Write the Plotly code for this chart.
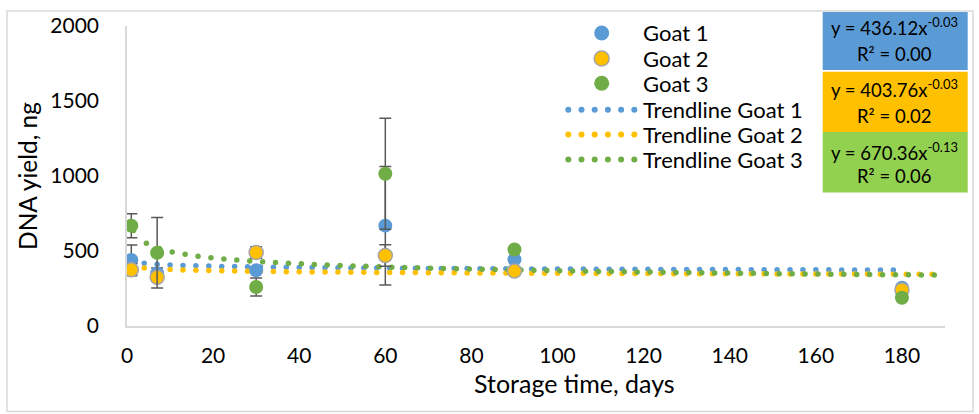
import numpy as np
import plotly.graph_objects as go

# ---------------- data ----------------
days = [1, 7, 30, 60, 90, 180]

goat1 = [440, 351, 371, 669, 444, 255]
goat2 = [375, 325, 490, 470, 366, 240]
goat3 = [668, 488, 260, 1015, 510, 188]

goat1_err = [100, 35, 20, 395, 0, 0]
goat2_err = [40, 20, 38, 72, 0, 0]
goat3_err = [80, 235, 60, 370, 0, 0]

series_names = ["Goat 1", "Goat 2", "Goat 3"]
trend_names = ["Trendline Goat 1", "Trendline Goat 2", "Trendline Goat 3"]

# power trendlines y = a * x^b as printed on the chart
trend_a = [436.12, 403.76, 670.36]
trend_b = [-0.03, -0.03, -0.13]
trend_r2 = [0.00, 0.02, 0.06]
trend_start = [1, 1, 1.5]
trend_end = [179, 188, 189]

x_ticks = [0, 20, 40, 60, 80, 100, 120, 140, 160, 180]
y_ticks = [0, 500, 1000, 1500, 2000]

x_title = "Storage time, days"
y_title = "DNA yield, ng"

# ---------------- style ----------------
marker_colors = ["#5B9BD5", "#FFC000", "#70AD47"]
box_colors = ["#5B9BD5", "#FFC000", "#92D050"]
FONT = "Lato"

W, H = 979, 414
L, R, T, B = 127, 34, 24, 88
PW, PH = W - L - R, H - T - B


def px(xp):
    return (xp - L) / PW


def py(yp):
    return (H - B - yp) / PH


fig = go.Figure()

# trendlines (dotted)
for i in range(3):
    xs = np.arange(trend_start[i], trend_end[i], 3.0)
    ys = trend_a[i] * xs ** trend_b[i]
    fig.add_trace(go.Scatter(
        x=xs, y=ys, mode="markers", name=trend_names[i],
        marker=dict(size=5.5, color=marker_colors[i], line=dict(width=0)),
        showlegend=False, hoverinfo="skip"))

# data points with error bars
vals = [goat1, goat2, goat3]
errs = [goat1_err, goat2_err, goat3_err]
for i in range(3):
    line = dict(width=1.5, color="#A5A5A5") if i == 1 else dict(width=0)
    fig.add_trace(go.Scatter(
        x=days, y=vals[i], mode="markers", name=series_names[i],
        marker=dict(size=14, color=marker_colors[i], line=line),
        error_y=dict(type="data", array=errs[i], symmetric=True,
                     color="#595959", thickness=1.5, width=6),
        showlegend=False))

shapes = []
annotations = []

# chart border
shapes.append(dict(type="rect", xref="paper", yref="paper",
                   x0=px(7), x1=px(973), y0=py(412), y1=py(9),
                   line=dict(color="#D9D9D9", width=1.5), layer="below"))

# manual legend
rows = [31, 56.7, 81.7, 108.3, 133.3, 158.3]
for i in range(3):
    lw = 1.5 if i == 1 else 0
    shapes.append(dict(type="circle", xref="paper", yref="paper",
                       xsizemode="pixel", ysizemode="pixel",
                       xanchor=px(601.7), yanchor=py(rows[i]),
                       x0=-7.5, x1=7.5, y0=-7.5, y1=7.5,
                       fillcolor=marker_colors[i],
                       line=dict(color="#A5A5A5", width=lw)))
    annotations.append(dict(xref="paper", yref="paper", x=px(641), y=py(rows[i]),
                            xanchor="left", yanchor="middle", showarrow=False,
                            text=series_names[i],
                            font=dict(family=FONT, size=22, color="#000")))
for i in range(3):
    for k in range(6):
        shapes.append(dict(type="circle", xref="paper", yref="paper",
                           xsizemode="pixel", ysizemode="pixel",
                           xanchor=px(568.3 + 13.2 * k), yanchor=py(rows[3 + i]),
                           x0=-3, x1=3, y0=-3, y1=3,
                           fillcolor=marker_colors[i], line=dict(width=0)))
    annotations.append(dict(xref="paper", yref="paper", x=px(641), y=py(rows[3 + i]),
                            xanchor="left", yanchor="middle", showarrow=False,
                            text=trend_names[i],
                            font=dict(family=FONT, size=22, color="#000")))

# equation boxes
box_tops = [10, 70, 130.7]
box_bottoms = [68.3, 130.7, 191.7]
eq_rows = [25, 87.3, 150]
r2_rows = [51.7, 115, 175]
for i in range(3):
    shapes.append(dict(type="rect", xref="paper", yref="paper",
                       x0=px(822.7), x1=px(967.7), y0=py(box_bottoms[i]), y1=py(box_tops[i]),
                       fillcolor=box_colors[i], line=dict(width=0)))
    annotations.append(dict(xref="paper", yref="paper", x=px(894.7), y=py(eq_rows[i]),
                            xanchor="center", yanchor="middle", showarrow=False,
                            text=f"y = {trend_a[i]:.2f}x<sup>{trend_b[i]:.2f}</sup>",
                            font=dict(family=FONT, size=18.5, color="#000")))
    annotations.append(dict(xref="paper", yref="paper", x=px(894.5), y=py(r2_rows[i]),
                            xanchor="center", yanchor="middle", showarrow=False,
                            text=f"R² = {trend_r2[i]:.2f}",
                            font=dict(family=FONT, size=18.5, color="#000")))

# x-axis title
annotations.append(dict(xref="paper", yref="paper", x=px(574), y=py(383),
                        xanchor="center", yanchor="middle", showarrow=False,
                        text=x_title, font=dict(family=FONT, size=25, color="#000")))

fig.update_layout(
    width=W, height=H,
    margin=dict(l=L, r=R, t=T, b=B),
    paper_bgcolor="white", plot_bgcolor="white",
    font=dict(family=FONT, size=21, color="#000"),
    shapes=shapes, annotations=annotations,
    showlegend=False,
    xaxis=dict(range=[0, 190], tickvals=x_ticks, showgrid=False, zeroline=False,
               showline=True, linecolor="#D9D9D9", linewidth=1.5,
               ticks="", ticklabelstandoff=10,
               tickfont=dict(family=FONT, size=21, color="#000")),
    yaxis=dict(range=[0, 2000], tickvals=y_ticks, showgrid=False, zeroline=False,
               showline=True, linecolor="#D9D9D9", linewidth=1.5,
               ticks="", ticklabelstandoff=22,
               tickfont=dict(family=FONT, size=21, color="#000"),
               title=dict(text=y_title, standoff=6,
                          font=dict(family=FONT, size=24.5, color="#000"))),
)

fig.write_html("out.html", config={"displayModeBar": False},
               post_script="document.body.style.margin='0';document.body.style.overflow='hidden';")
